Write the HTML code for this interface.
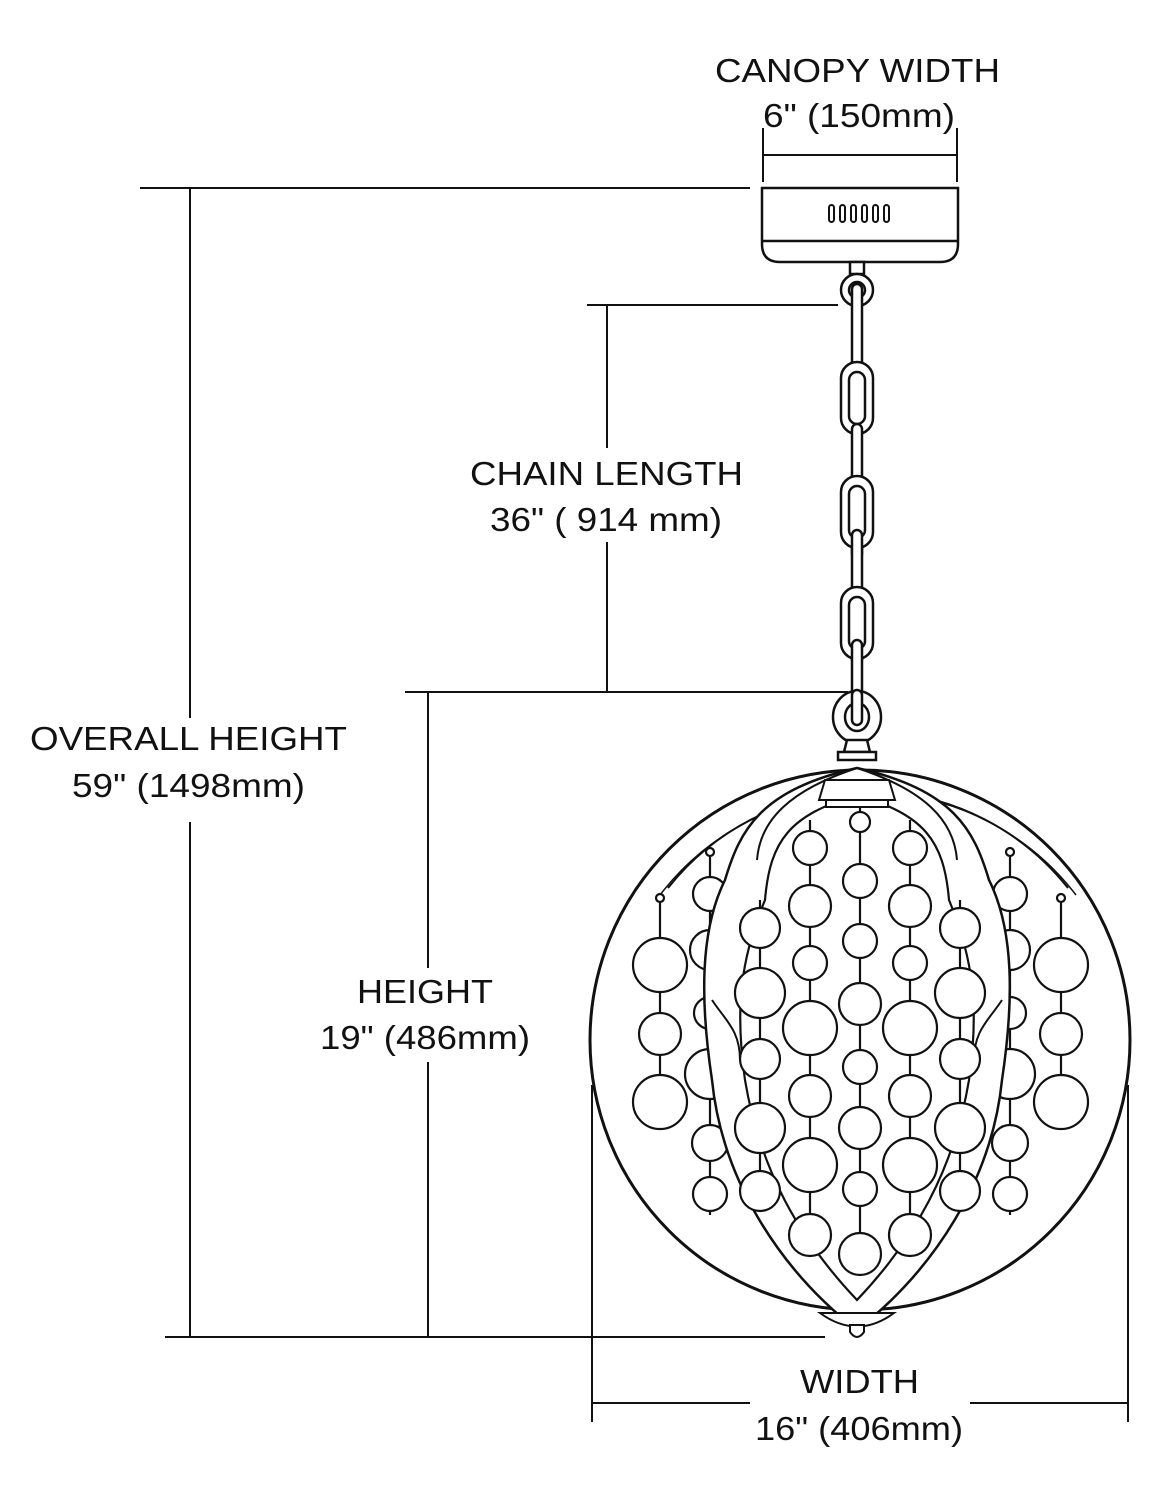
<!DOCTYPE html>
<html><head><meta charset="utf-8"><style>
html,body{margin:0;padding:0;background:#fff;}
svg{display:block;}
text{font-family:"Liberation Sans",Arial,sans-serif;font-size:33px;fill:#111;}
</style></head><body>
<svg width="1164" height="1500" viewBox="0 0 1164 1500" xmlns="http://www.w3.org/2000/svg">
<g stroke="#111" stroke-width="2" fill="none">
<line x1="763" y1="128" x2="763" y2="182"/>
<line x1="957" y1="128" x2="957" y2="182"/>
<line x1="763" y1="155" x2="957" y2="155"/>
<line x1="140" y1="188" x2="750" y2="188"/>
<line x1="190" y1="188" x2="190" y2="718"/>
<line x1="190" y1="822" x2="190" y2="1337"/>
<line x1="165" y1="1337" x2="825" y2="1337"/>
<line x1="587" y1="305" x2="838" y2="305"/>
<line x1="607" y1="305" x2="607" y2="448"/>
<line x1="607" y1="542" x2="607" y2="692"/>
<line x1="405" y1="692" x2="848" y2="692"/>
<line x1="428" y1="692" x2="428" y2="968"/>
<line x1="428" y1="1062" x2="428" y2="1337"/>
<line x1="592" y1="1085" x2="592" y2="1422"/>
<line x1="1128" y1="1085" x2="1128" y2="1422"/>
<line x1="592" y1="1403" x2="750" y2="1403"/>
<line x1="970" y1="1403" x2="1128" y2="1403"/>
</g>
<g stroke="#111" stroke-width="2.5" fill="#fff">
<path d="M762,188 L958,188 L958,244 Q958,262 940,262 L780,262 Q762,262 762,244 Z"/>
<line x1="762" y1="241" x2="958" y2="241"/>
<g stroke-width="2">
<rect x="829" y="205" width="5" height="17" rx="2.5"/>
<rect x="840" y="205" width="5" height="17" rx="2.5"/>
<rect x="851" y="205" width="5" height="17" rx="2.5"/>
<rect x="862" y="205" width="5" height="17" rx="2.5"/>
<rect x="873" y="205" width="5" height="17" rx="2.5"/>
<rect x="884" y="205" width="5" height="17" rx="2.5"/>
</g>
</g>
<g stroke="#111" stroke-width="2.5" fill="#fff">
<rect x="850" y="262" width="14" height="12"/>
<circle cx="857" cy="290" r="16"/>
<circle cx="857" cy="290" r="8"/>
<rect x="852" y="284" width="10" height="133" rx="5"/>
<rect x="841" y="362" width="32" height="72" rx="16"/>
<rect x="849" y="372" width="16" height="52" rx="8"/>
<rect x="852" y="424" width="10" height="135" rx="5"/>
<rect x="841" y="476" width="32" height="72" rx="16"/>
<rect x="849" y="486" width="16" height="52" rx="8"/>
<rect x="852" y="530" width="10" height="135" rx="5"/>
<rect x="841" y="587" width="32" height="72" rx="16"/>
<rect x="849" y="597" width="16" height="52" rx="8"/>
<rect x="852" y="640" width="10" height="85" rx="5"/>
<ellipse cx="857" cy="717" rx="24" ry="26"/>
<ellipse cx="857" cy="717" rx="12" ry="14"/>
<rect x="852" y="690" width="10" height="35" rx="5"/>
<path d="M847,740 L867,740 L870,752 L844,752 Z"/>
<rect x="838" y="752" width="38" height="8"/>
</g>
<circle cx="860" cy="1040" r="270" stroke="#111" stroke-width="3" fill="#fff"/>
<path d="M668,888 A 255 255 0 0 1 1068,888" stroke="#111" stroke-width="2" fill="none"/>
<path d="M660,895 A 262 262 0 0 1 1076,895" stroke="#111" stroke-width="1.5" fill="none"/>
<g stroke="#111" stroke-width="2.2" fill="#fff">
<line x1="660" y1="898" x2="660" y2="1130"/>
<circle cx="660" cy="898" r="4"/>
<circle cx="660" cy="965" r="27"/><circle cx="660" cy="1034" r="21"/><circle cx="660" cy="1102" r="27"/>
<line x1="1061" y1="898" x2="1061" y2="1130"/>
<circle cx="1061" cy="898" r="4"/>
<circle cx="1061" cy="965" r="27"/><circle cx="1061" cy="1034" r="21"/><circle cx="1061" cy="1102" r="27"/>
<line x1="710" y1="852" x2="710" y2="1215"/><circle cx="710" cy="852" r="4"/>
<circle cx="710" cy="894" r="17"/><circle cx="710" cy="950" r="20"/><circle cx="710" cy="1013" r="16"/><circle cx="710" cy="1074" r="25"/><circle cx="710" cy="1143" r="18"/><circle cx="710" cy="1194" r="17"/>
<line x1="1010" y1="852" x2="1010" y2="1215"/><circle cx="1010" cy="852" r="4"/>
<circle cx="1010" cy="894" r="17"/><circle cx="1010" cy="950" r="20"/><circle cx="1010" cy="1013" r="16"/><circle cx="1010" cy="1074" r="25"/><circle cx="1010" cy="1143" r="18"/><circle cx="1010" cy="1194" r="17"/>
</g>
<path d="M857,768 C760,790 740,830 725,880 C700,930 700,1000 712,1080 C722,1180 780,1270 857,1330 C934,1270 992,1180 1002,1080 C1014,1000 1014,930 989,880 C974,830 954,790 857,768 Z" stroke="#111" stroke-width="2.5" fill="#fff"/>
<path d="M857,768 C790,790 760,820 757,860 M857,768 C924,790 954,820 957,860 M712,1000 C725,1020 740,1030 740,1060 M1002,1000 C989,1020 974,1030 974,1060" stroke="#111" stroke-width="2" fill="none"/>
<path d="M857,795 C790,815 770,840 765,900 C740,960 735,1010 745,1080 C760,1170 800,1240 857,1300 C914,1240 954,1170 969,1080 C979,1010 974,960 949,900 C944,840 924,815 857,795 Z" stroke="#111" stroke-width="2.2" fill="#fff"/>
<path d="M825,780 L889,780 L895,800 L819,800 Z" stroke="#111" stroke-width="2" fill="#fff"/>
<rect x="826" y="800" width="62" height="7" stroke="#111" stroke-width="2" fill="#fff"/>
<g stroke="#111" stroke-width="2.2" fill="#fff">
<line x1="760" y1="900" x2="760" y2="1210"/>
<circle cx="760" cy="928" r="20"/><circle cx="760" cy="993" r="25"/><circle cx="760" cy="1059" r="20"/><circle cx="760" cy="1128" r="25"/><circle cx="760" cy="1191" r="20"/>
<line x1="960" y1="900" x2="960" y2="1210"/>
<circle cx="960" cy="928" r="20"/><circle cx="960" cy="993" r="25"/><circle cx="960" cy="1059" r="20"/><circle cx="960" cy="1128" r="25"/><circle cx="960" cy="1191" r="20"/>
<line x1="810" y1="820" x2="810" y2="1255"/>
<circle cx="810" cy="848" r="17"/><circle cx="810" cy="906" r="21"/><circle cx="810" cy="963" r="17"/><circle cx="810" cy="1028" r="27"/><circle cx="810" cy="1096" r="21"/><circle cx="810" cy="1165" r="27"/><circle cx="810" cy="1235" r="21"/>
<line x1="910" y1="820" x2="910" y2="1255"/>
<circle cx="910" cy="848" r="17"/><circle cx="910" cy="906" r="21"/><circle cx="910" cy="963" r="17"/><circle cx="910" cy="1028" r="27"/><circle cx="910" cy="1096" r="21"/><circle cx="910" cy="1165" r="27"/><circle cx="910" cy="1235" r="21"/>
<line x1="860" y1="807" x2="860" y2="1275"/>
<circle cx="860" cy="822" r="10"/><circle cx="860" cy="881" r="17"/><circle cx="860" cy="941" r="17"/><circle cx="860" cy="1004" r="21"/><circle cx="860" cy="1067" r="17"/><circle cx="860" cy="1128" r="21"/><circle cx="860" cy="1189" r="17"/><circle cx="860" cy="1254" r="21"/>
</g>
<path d="M820,1313 Q857,1340 894,1313 Z" stroke="#111" stroke-width="2" fill="#fff"/>
<path d="M850,1325 L864,1325 L864,1332 Q857,1342 850,1332 Z" stroke="#111" stroke-width="2" fill="#fff"/>
<text x="715" y="82" textLength="285" lengthAdjust="spacingAndGlyphs">CANOPY WIDTH</text>
<text x="763" y="127" textLength="192" lengthAdjust="spacingAndGlyphs">6" (150mm)</text>
<text x="470" y="485" textLength="273" lengthAdjust="spacingAndGlyphs">CHAIN LENGTH</text>
<text x="490" y="531" textLength="232" lengthAdjust="spacingAndGlyphs">36" ( 914 mm)</text>
<text x="30" y="750" textLength="317" lengthAdjust="spacingAndGlyphs">OVERALL HEIGHT</text>
<text x="72" y="797" textLength="233" lengthAdjust="spacingAndGlyphs">59" (1498mm)</text>
<text x="357" y="1003" textLength="136" lengthAdjust="spacingAndGlyphs">HEIGHT</text>
<text x="320" y="1049" textLength="210" lengthAdjust="spacingAndGlyphs">19" (486mm)</text>
<text x="800" y="1393" textLength="119" lengthAdjust="spacingAndGlyphs">WIDTH</text>
<text x="755" y="1440" textLength="208" lengthAdjust="spacingAndGlyphs">16" (406mm)</text>
</svg>
</body></html>
